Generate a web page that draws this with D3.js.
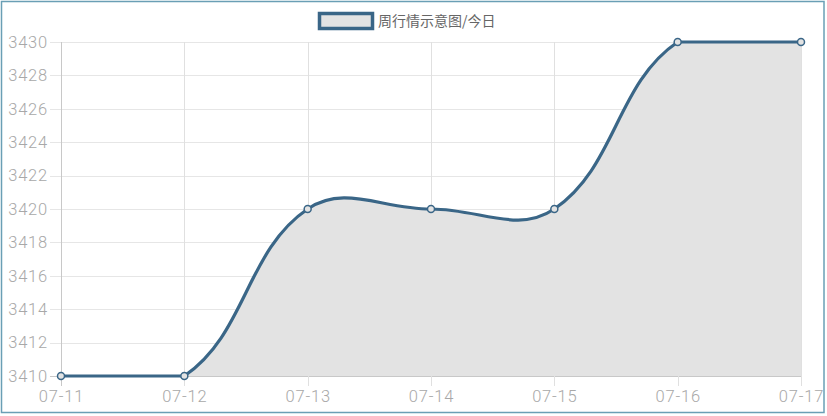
<!DOCTYPE html>
<html>
<head>
<meta charset="utf-8">
<script src="https://cdn.jsdelivr.net/npm/d3@7"></script>
<style>
  html, body { margin: 0; padding: 0; background: #fff; }
  svg { display: block; }
  .tick text { font-family: Roboto, "Liberation Sans", sans-serif; font-weight: 300; letter-spacing: 0.8px; }
</style>
</head>
<body>
<svg id="chart" width="827" height="416"></svg>
<script>
const dates = ["07-11", "07-12", "07-13", "07-14", "07-15", "07-16", "07-17"];
const prices = [3410, 3410, 3420, 3420, 3420, 3430, 3430];
const yTicks = [3410, 3412, 3414, 3416, 3418, 3420, 3422, 3424, 3426, 3428, 3430];
const seriesName = "周行情示意图/今日";

const width = 827;
const height = 416;
const margin = { top: 42, right: 26, bottom: 40, left: 61 };
const lineColor = "#3a6687";
const fillColor = "#e3e3e3";

const svg = d3.select("#chart");

// outer frame
svg.append("rect")
  .attr("x", 1.5).attr("y", 1.5)
  .attr("width", 822.5).attr("height", 411)
  .attr("fill", "none")
  .attr("stroke", "#6a9fb5")
  .attr("stroke-width", 1.5);

const x = d3.scalePoint().domain(dates).range([margin.left, width - margin.right]);
const y = d3.scaleLinear().domain([3410, 3430]).range([height - margin.bottom, margin.top]);

// grid
const grid = svg.append("g");
grid.selectAll(".hgrid")
  .data(yTicks)
  .enter()
  .append("line")
  .attr("x1", margin.left - 11)
  .attr("x2", width - margin.right)
  .attr("y1", (d) => Math.round(y(d)) + 0.5)
  .attr("y2", (d) => Math.round(y(d)) + 0.5)
  .attr("stroke", (d) => (d === 3410 ? "#c8c8c8" : "#e6e6e6"))
  .attr("stroke-width", 1);
grid.selectAll(".vgrid")
  .data(dates)
  .enter()
  .append("line")
  .attr("x1", (d) => Math.round(x(d)) + 0.5)
  .attr("x2", (d) => Math.round(x(d)) + 0.5)
  .attr("y1", margin.top)
  .attr("y2", height - margin.bottom + 10)
  .attr("stroke", (d, i) => (i === 0 ? "#c8c8c8" : "#e0e0e0"))
  .attr("stroke-width", 1);

// chart.js style bezier (tension 0.4, control points capped to the chart area)
const tension = 0.4;
const pts = dates.map((d, i) => ({ x: x(d), y: y(prices[i]) }));
const areaTop = y(3430), areaBottom = y(3410);
pts.forEach((p, i) => {
  const prev = pts[i - 1] || p;
  const next = pts[i + 1] || p;
  const d01 = Math.hypot(p.x - prev.x, p.y - prev.y);
  const d12 = Math.hypot(next.x - p.x, next.y - p.y);
  let s01 = d01 / (d01 + d12), s12 = d12 / (d01 + d12);
  if (isNaN(s01)) s01 = 0;
  if (isNaN(s12)) s12 = 0;
  const fa = tension * s01, fb = tension * s12;
  const cap = (v) => Math.max(areaTop, Math.min(areaBottom, v));
  p.cpPrev = { x: p.x - fa * (next.x - prev.x), y: cap(p.y - fa * (next.y - prev.y)) };
  p.cpNext = { x: p.x + fb * (next.x - prev.x), y: cap(p.y + fb * (next.y - prev.y)) };
});

function curvePath(path) {
  path.moveTo(pts[0].x, pts[0].y);
  for (let i = 1; i < pts.length; i++) {
    const a = pts[i - 1], b = pts[i];
    path.bezierCurveTo(a.cpNext.x, a.cpNext.y, b.cpPrev.x, b.cpPrev.y, b.x, b.y);
  }
  return path;
}

const area = curvePath(d3.path());
area.lineTo(pts[pts.length - 1].x, areaBottom);
area.lineTo(pts[0].x, areaBottom);
area.closePath();

svg.append("path")
  .attr("d", area.toString())
  .attr("fill", fillColor);

svg.append("path")
  .attr("d", curvePath(d3.path()).toString())
  .attr("fill", "none")
  .attr("stroke", lineColor)
  .attr("stroke-width", 3.2);

svg.selectAll(".pt")
  .data(prices)
  .enter()
  .append("circle")
  .attr("cx", (d, i) => x(dates[i]))
  .attr("cy", (d) => y(d))
  .attr("r", 3.5)
  .attr("fill", fillColor)
  .attr("stroke", lineColor)
  .attr("stroke-width", 1.5);

// axes labels
const yAxis = svg.append("g")
  .attr("transform", `translate(${margin.left - 13},0)`)
  .call(d3.axisLeft(y).tickValues(yTicks).tickSize(0).tickPadding(0).tickFormat(d3.format("d")));
yAxis.select(".domain").remove();
yAxis.selectAll("text").attr("fill", "#a8a8a8").style("font-size", "16.5px");

const xAxis = svg.append("g")
  .attr("transform", `translate(0,${height - margin.bottom})`)
  .call(d3.axisBottom(x).tickSize(0).tickPadding(14));
xAxis.select(".domain").remove();
xAxis.selectAll("text").attr("fill", "#a8a8a8").style("font-size", "16.5px");

// legend
const legend = svg.append("g");
legend.append("rect")
  .attr("x", 319.5).attr("y", 13.5)
  .attr("width", 53).attr("height", 15)
  .attr("fill", fillColor)
  .attr("stroke", lineColor)
  .attr("stroke-width", 3.5);
legend.append("text")
  .attr("x", 378).attr("y", 26)
  .attr("fill", "#666")
  .style("font-family", "'Noto Sans CJK SC', sans-serif")
  .style("font-size", "14px")
  .text(seriesName);
</script>
</body>
</html>
